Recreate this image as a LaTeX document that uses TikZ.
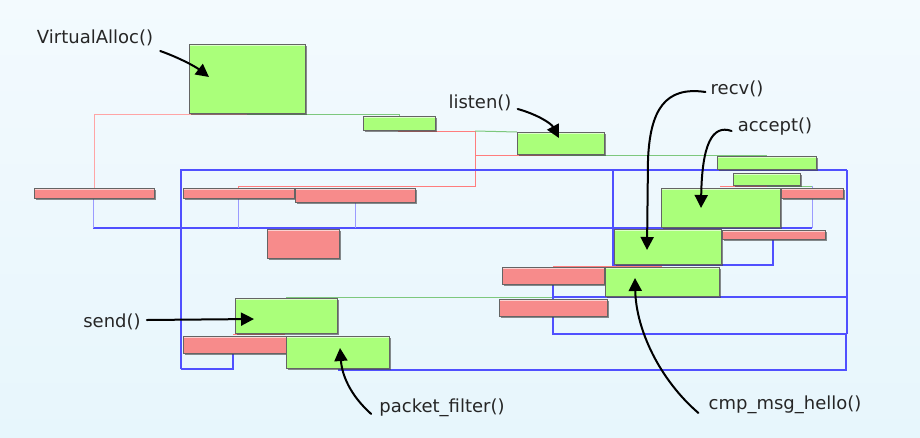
\documentclass[tikz,border=0pt]{standalone}
\usepackage{fontspec}
\setmainfont{DejaVu Sans}
\usetikzlibrary{shadows,arrows.meta,calc}
\definecolor{bgtop}{RGB}{243,250,254}
\definecolor{bgbot}{RGB}{231,246,252}
\definecolor{gfill}{RGB}{170,255,122}
\definecolor{rfill}{RGB}{247,139,139}
\definecolor{bord}{RGB}{100,100,100}
\definecolor{rline}{RGB}{255,125,125}
\definecolor{rpale}{RGB}{255,165,165}
\definecolor{gline}{RGB}{125,200,125}
\definecolor{bline}{RGB}{80,80,255}
\definecolor{blight}{RGB}{155,155,255}
\pgfdeclarelayer{bg}\pgfdeclarelayer{links}
\pgfsetlayers{bg,links,main}
\newcommand\drawbox[6]{%
  \pgfmathsetmacro\dbw{#5-#3}\pgfmathsetmacro\dbh{#6-#4}%
  \pgfmathsetmacro\dbx{(#3+#5)/2}\pgfmathsetmacro\dby{(#4+#6)/2}%
  \node[#2, minimum width=\dbw pt, minimum height=\dbh pt] (#1) at (\dbx,\dby) {};}
\tikzset{
  boxbase/.style={draw=bord, line width=0.8pt, inner sep=0pt, outer sep=0pt,
    drop shadow={shadow xshift=2pt,shadow yshift=-2.2pt,opacity=.6,fill=black!75},
    path picture={\draw[white,opacity=.6,line width=1.4pt]
      ([yshift=-1.2pt]path picture bounding box.north west) --
      ([yshift=-1.2pt]path picture bounding box.north east);
      \draw[white!80!gray,line width=1pt]
      (path picture bounding box.north west) -- (path picture bounding box.north east);}},
  gbox/.style={boxbase, fill=gfill},
  rbox/.style={boxbase, fill=rfill},
  rl/.style={rline, line width=1pt},
  rlp/.style={rpale, line width=1pt},
  gl/.style={gline, line width=1pt},
  bl/.style={bline, line width=1.05pt},
  blt/.style={blight, line width=1pt},
  lbl/.style={font=\fontsize{18}{20}\selectfont, inner sep=0pt, text=black!85},
  callout/.style={line width=2pt, line cap=round, -{Triangle[length=13pt,width=13pt]}},
}
\begin{document}
\begin{tikzpicture}[x=1pt,y=-1pt]
\begin{pgfonlayer}{bg}
  \shade[top color=bgtop, bottom color=bgbot] (0,0) rectangle (920,437);
\end{pgfonlayer}
\useasboundingbox (0,0) rectangle (920,437);

% boxes
\drawbox{va}{gbox}{189}{44}{305}{113}
\drawbox{g2}{gbox}{363}{116}{435}{130}
\drawbox{lis}{gbox}{517}{132}{604}{154}
\drawbox{g4}{gbox}{717}{156}{816}{169}
\drawbox{g5}{gbox}{733}{173}{800}{185}
\drawbox{acc}{gbox}{661}{188}{780}{227}
\drawbox{rcv}{gbox}{614}{229}{721}{264}
\drawbox{r1}{rbox}{34}{188}{154}{198}
\drawbox{r2}{rbox}{183}{188}{294}{198}
\drawbox{r3}{rbox}{295}{188}{415}{202}
\drawbox{r4}{rbox}{267}{229}{339}{258}
\drawbox{r5}{rbox}{781}{188}{843}{198}
\drawbox{r6}{rbox}{722}{230}{825}{239}
\drawbox{r7}{rbox}{502}{267}{604}{284}
\drawbox{cmp}{gbox}{605}{267}{719}{296}
\drawbox{r8}{rbox}{499}{299}{607}{316}
\drawbox{snd}{gbox}{235}{298}{337}{333}
\drawbox{r9}{rbox}{183}{336}{286}{353}
\drawbox{pf}{gbox}{286}{336}{389}{368}

% connectors behind boxes
\begin{pgfonlayer}{links}
  \draw[rlp] (r1.north) |- (247,114);
  \draw[gl] (247,114) -| (g2.north);
  \draw[rl] (398,131) -- (475,131) -- (475,186) -- (238,186) -- (238,188);
  \draw[gl] (475,131) -- (lis.north west);
  \draw[rl] (475,155) -- (560,155);
  \draw[gl] (560,155) -| (g4.north);
  \draw[rl] (720,186) -- (767,186);
  \draw[gl] (767,186) -- (812,186);
  \draw[rl] (553,266) -- (662,266);
  \draw[gl] (snd.north -| pf.north west) -- (286,297) -- (553,297);
  \draw[rl] (233,334) -- (285,334);
  % blue tree lines
  \draw[bl] (181,369) -- (181,170) -- (847,170);
  \draw[bl] (181,369) -- (233,369) -- (233,353);
  \draw[bl] (338,370) -- (846,370) -- (846,334);
  \draw[bline, line width=2.6pt] (847,170) -- (847,334);
  \draw[bl] (553,284) -- (553,334) -- (846,334);
  \draw[bl] (553,297) -- (847,297);
  \draw[bl] (613,170) -- (613,265) -- (773,265) -- (773,239);
  \draw[bl] (93,228) -- (812,228);
  \draw[blt] (812,186) -- (812,228);
  \draw[blt] (93,198) -- (93,228);
  \draw[blt] (238,198) -- (238,228);
  \draw[blt] (355,202) -- (355,228);
\end{pgfonlayer}

% labels
\node[lbl] (lva) at (95,38) {VirtualAlloc()};
\node[lbl] (llis) at (480,103) {listen()};
\node[lbl] (lrcv) at (737,89) {recv()};
\node[lbl] (lacc) at (775,127) {accept()};
\node[lbl] (lsnd) at (112,322) {send()};
\node[lbl] (lpf) at (442,408) {packet\_filter()};
\node[lbl] (lcmp) at (785,405) {cmp\_msg\_hello()};

% arrow tips
\coordinate (tva) at (209,77);
\coordinate (tlis) at (559,138);
\coordinate (trcv) at (647,250);
\coordinate (tacc) at (701,208);
\coordinate (tsnd) at (254,319);
\coordinate (tpf) at (340,348);
\coordinate (tcmp) at (635,278);

\draw[callout] ([xshift=7pt,yshift=-13pt]lva.east) .. controls (180,58) and (196,67) .. (tva);
\draw[callout] ([xshift=6pt,yshift=-6pt]llis.east) .. controls (536,114) and (551,123) .. (tlis);
\draw[callout] ([xshift=-5pt,yshift=-3pt]lrcv.west) .. controls (665,86) and (650,110) .. (648,160) -- (trcv);
\draw[callout] ([xshift=-6pt,yshift=-4pt]lacc.west) .. controls (712,124) and (702,145) .. (tacc);
\draw[callout] ([xshift=6pt,yshift=2pt]lsnd.east) -- (tsnd);
\draw[callout] ([xshift=-8pt,yshift=-6pt]lpf.west) .. controls (350,395) and (342,375) .. (tpf);
\draw[callout] ([xshift=-10pt,yshift=-8pt]lcmp.west) .. controls (660,380) and (636,330) .. (tcmp);
\end{tikzpicture}
\end{document}
